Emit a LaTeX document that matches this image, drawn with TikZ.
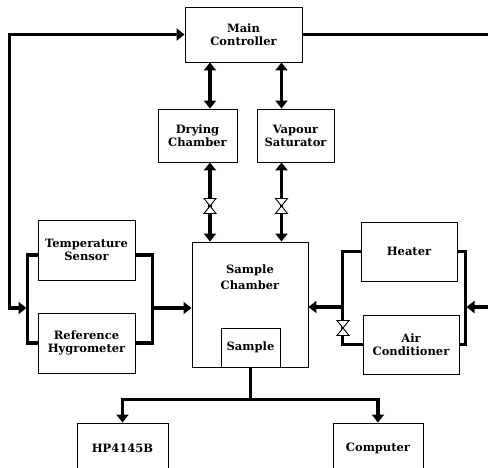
\documentclass[tikz,border=0pt]{standalone}
\usepackage{fontspec}
\setmainfont{DejaVu Serif}
\usetikzlibrary{arrows.meta}
\begin{document}
\begin{tikzpicture}[x=1pt,y=-1pt,
  box/.style={draw, line width=0.9pt, align=center, inner sep=0pt, font=\bfseries\fontsize{11.5}{13}\selectfont},
  pipe/.style={line width=3.5pt},
  arr/.style={pipe, -{Triangle[length=8pt,width=12pt]}},
  dbl/.style={pipe, {Triangle[length=8pt,width=12pt]}-{Triangle[length=8pt,width=12pt]}},
  valve/.pic={\draw[line width=0.9pt, fill=white] (-6,-7.5) -- (6,-7.5) -- (-6,7.5) -- (6,7.5) -- cycle;}
]
\useasboundingbox (0,0) rectangle (488,467);
\clip (0,0) rectangle (488,467);
% boxes
\node[box, minimum width=117pt, minimum height=55pt] (main) at (243.5,34.5) {Main\\Controller};
\node[box, minimum width=79pt, minimum height=53pt] (dry) at (197.5,135.5) {Drying\\Chamber};
\node[box, minimum width=77pt, minimum height=53pt] (vap) at (295.5,135.5) {Vapour\\Saturator};
\node[box, minimum width=116pt, minimum height=125pt] (chamber) at (250,304.5) {};
\node[font=\bfseries\fontsize{11.5}{15.5}\selectfont, align=center] (chtext) at (250,277) {Sample\\Chamber};
\node[box, minimum width=59pt, minimum height=39pt] (sample) at (250.5,347.5) {Sample};
\node[box, minimum width=97pt, minimum height=60pt] (temp) at (86.5,250) {Temperature\\Sensor};
\node[box, minimum width=97pt, minimum height=60pt] (ref) at (86.5,343) {Reference\\Hygrometer};
\node[box, minimum width=96pt, minimum height=59pt] (heater) at (409,251.5) {Heater};
\node[box, minimum width=96pt, minimum height=59pt] (ac) at (411,344.5) {Air\\Conditioner};
\node[box, minimum width=91pt, minimum height=50pt] (hp) at (122.5,448) {HP4145B};
\node[box, minimum width=90pt, minimum height=50pt] (comp) at (378,448) {Computer};
% columns
\coordinate (c1) at (210,0);
\coordinate (c2) at (281.5,0);
% main <-> dry / vap
\draw[dbl] (c1 |- main.south) -- (c1 |- dry.north);
\draw[dbl] (c2 |- main.south) -- (c2 |- vap.north);
% dry / vap <-> chamber with valves
\draw[dbl] (c1 |- dry.south) -- (c1 |- chamber.north);
\draw[dbl] (c2 |- vap.south) -- (c2 |- chamber.north);
\pic at (210,206) {valve};
\pic at (281.5,206) {valve};
% left sensors
\draw[pipe] ([yshift=-5pt]temp.west) -- ++(-10,0) |- (ref.west);
\draw[pipe] ([yshift=-5pt]temp.east) -- ++(17,0) |- (ref.east);
\coordinate (lb) at (152,308);
\draw[arr] (lb) -- (lb -| chamber.west);
\coordinate (lj) at (26.5,308);
\coordinate (lx) at (9.5,0);
\draw[dbl] (lj) -- (lj -| lx) |- (main.west);
% right heater / ac
\draw[pipe] (heater.west) -- ++(-18,0) |- (ac.west);
\draw[pipe] (heater.east) -- ++(8,0) |- (ac.east);
\pic at (343,328) {valve};
\coordinate (rb) at (343,307);
\draw[arr] (rb) -- (rb -| chamber.east);
\coordinate (rj) at (466.5,307);
\coordinate (rx) at (496,0);
\draw[arr] (main.east) -- (main.east -| rx) |- (rj);
% bottom
\draw[pipe] (sample.south) -- ++(0,32) coordinate (bj);
\draw[arr] (bj) -| (hp.north);
\draw[arr] (bj) -| (comp.north);
\end{tikzpicture}
\end{document}
